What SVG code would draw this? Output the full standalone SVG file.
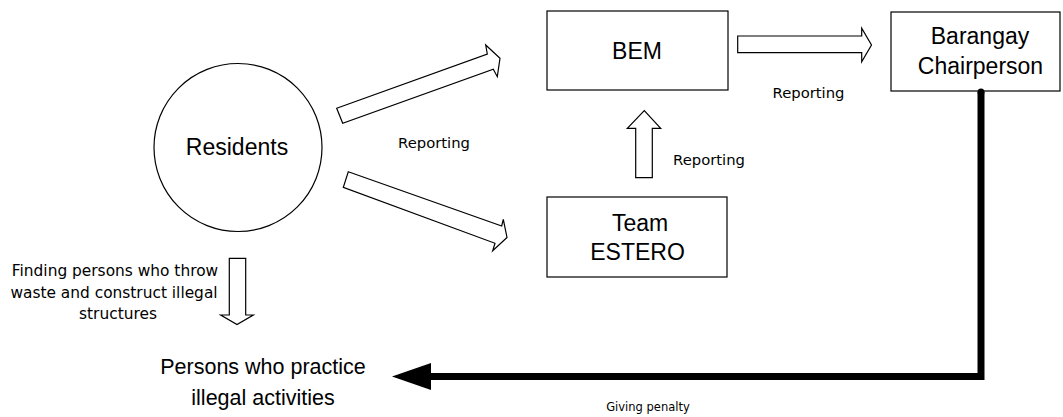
<svg xmlns="http://www.w3.org/2000/svg" width="1063" height="417" viewBox="0 0 1063 417">
<style>
.node{fill:#fff;stroke:#000;stroke-width:1.2}
.blk{fill:#fff;stroke:#000;stroke-width:1.2;stroke-linejoin:miter}
.big{font-family:"Liberation Sans",Arial,sans-serif;font-size:23px;fill:#000;text-anchor:middle}
.bot{font-family:"Liberation Sans",Arial,sans-serif;font-size:21.5px;fill:#000;text-anchor:middle}
.lbl{font-family:"DejaVu Sans",sans-serif;font-size:14.8px;fill:#000;text-anchor:middle}
.fnd{font-family:"DejaVu Sans",sans-serif;font-size:15.4px;fill:#000;text-anchor:middle}
.sm{font-family:"DejaVu Sans",sans-serif;font-size:11.5px;fill:#000;text-anchor:middle}
.thick{fill:none;stroke:#000;stroke-width:7;stroke-linejoin:miter}
</style>
<rect width="1063" height="417" fill="#fff"/>
<g id="residents">
<circle class="node" cx="238" cy="147.5" r="84"/>
<text class="big" x="237" y="155">Residents</text>
</g>
<g id="bem">
<rect class="node" x="547" y="11" width="181" height="79"/>
<text class="big" x="637" y="58.5">BEM</text>
</g>
<g id="barangay">
<rect class="node" x="891" y="12" width="169" height="79"/>
<text class="big" x="980" y="43.5">Barangay</text>
<text class="big" x="980.5" y="74">Chairperson</text>
</g>
<g id="team-estero">
<rect class="node" x="547" y="197" width="180" height="80"/>
<text class="big" x="640" y="231">Team</text>
<text class="big" x="637.5" y="260">ESTERO</text>
</g>
<g id="violators">
<text class="bot" x="263" y="374">Persons who practice</text>
<text class="bot" x="263" y="405">illegal activities</text>
</g>
<g id="connectors">
<polygon class="blk" points="336.7,108.3 487.3,54 485.7,45 500,58.3 497.3,76.7 493.3,69.3 342.7,123.3"/>
<polygon class="blk" points="348.3,171.7 501.7,226 503.3,219.3 507,237.5 492.7,250.7 495,243.3 343.3,187.3"/>
<polygon class="blk" points="635.7,177.7 635.7,128.3 627.3,128.3 644.3,110.7 660.7,128.3 652.3,128.3 652.3,177.7"/>
<polygon class="blk" points="737.7,36 861.7,36 861.7,28.3 871.5,45 861.7,61.7 861.7,52.7 737.7,52.7"/>
<polygon class="blk" points="229.3,258.3 245.7,258.3 245.7,315 253.3,315 237,324.5 220.7,315 229.3,315"/>
<path class="thick" d="M981,92 V376.5 H428"/>
<circle cx="981" cy="92" r="3.5" fill="#000"/>
<polygon points="431,363 392,376.5 431,390" fill="#000"/>
<text class="lbl" x="434" y="148">Reporting</text>
<text class="lbl" x="808.5" y="98">Reporting</text>
<text class="lbl" x="709" y="165">Reporting</text>
<text class="fnd" x="115" y="276">Finding persons who throw</text>
<text class="fnd" x="114" y="297.5">waste and construct illegal</text>
<text class="fnd" x="118" y="319">structures</text>
<text class="sm" x="648" y="411">Giving penalty</text>
</g>
</svg>
